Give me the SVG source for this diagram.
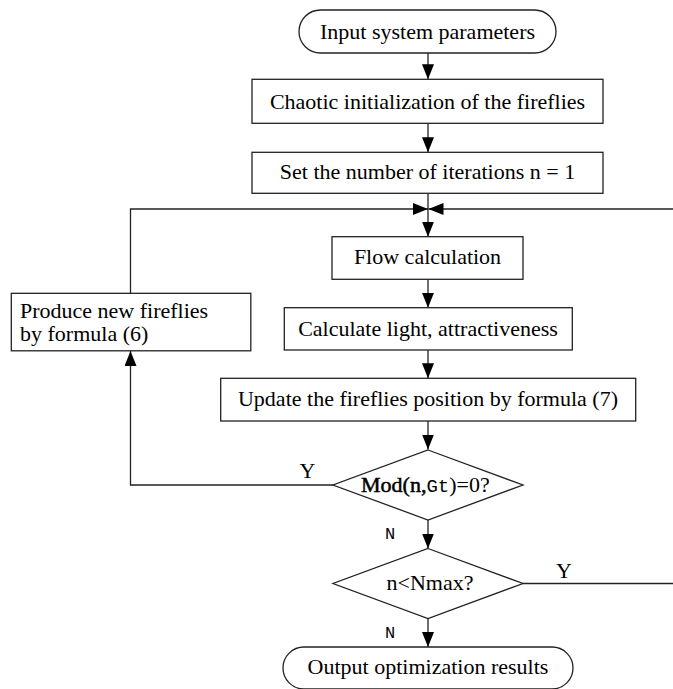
<svg xmlns="http://www.w3.org/2000/svg" width="673" height="689" viewBox="0 0 673 689">
<style>
.box{fill:#fff;stroke:#222;stroke-width:1.3}
.t{font-family:"Liberation Serif","Times New Roman",serif;font-size:22px;fill:#000}
.m{font-family:"Liberation Mono","Courier New",monospace;fill:#000}
.c{fill:none;stroke:#222;stroke-width:1.3}
</style>
<defs>
<marker id="arr" viewBox="0 0 15 12" refX="15" refY="6" markerWidth="15" markerHeight="12" orient="auto" markerUnits="userSpaceOnUse">
<path d="M0,0 L15,6 L0,12 Z" fill="#000"/>
</marker>
</defs>
<rect width="673" height="689" fill="#fff"/>
<g id="connectors">
<path class="c" d="M428 53 V79.3" marker-end="url(#arr)"/>
<path class="c" d="M428 123.3 V152.3" marker-end="url(#arr)"/>
<path class="c" d="M428 193.3 V236.7" marker-end="url(#arr)"/>
<path class="c" d="M428 279.3 V307.7" marker-end="url(#arr)"/>
<path class="c" d="M428 350 V378.3" marker-end="url(#arr)"/>
<path class="c" d="M428 421 V449.5" marker-end="url(#arr)"/>
<path class="c" d="M428 519.5 V548.5" marker-end="url(#arr)"/>
<path class="c" d="M428 618.5 V647" marker-end="url(#arr)"/>
<path class="c" d="M130.5 293.3 V209 H428" marker-end="url(#arr)"/>
<path class="c" d="M333 485 H130.5 V351" marker-end="url(#arr)"/>
<path class="c" d="M523 583.5 H685 V209 H428.5" marker-end="url(#arr)"/>
<text class="t" x="307.5" y="478" text-anchor="middle" font-size="18">Y</text>
<text class="t" x="564" y="578" text-anchor="middle" font-size="18">Y</text>
<text class="m" x="390" y="539" text-anchor="middle" font-size="17">N</text>
<text class="m" x="390" y="638" text-anchor="middle" font-size="17">N</text>
</g>
<g id="start">
<rect class="box" x="299" y="10" width="257" height="43" rx="21.5"/>
<text class="t" x="427.5" y="39" text-anchor="middle">Input system parameters</text>
</g>
<g id="init">
<rect class="box" x="252" y="79.3" width="351" height="44"/>
<text class="t" x="427.5" y="109" text-anchor="middle">Chaotic initialization of the fireflies</text>
</g>
<g id="setn">
<rect class="box" x="252" y="152.3" width="351" height="41"/>
<text class="t" x="427.5" y="179" text-anchor="middle">Set the number of iterations n = 1</text>
</g>
<g id="flow">
<rect class="box" x="332" y="236.7" width="191" height="42.6"/>
<text class="t" x="427.5" y="264" text-anchor="middle">Flow calculation</text>
</g>
<g id="light">
<rect class="box" x="284.3" y="307.7" width="288" height="42.3"/>
<text class="t" x="428" y="335.5" text-anchor="middle">Calculate light, attractiveness</text>
</g>
<g id="update">
<rect class="box" x="220.7" y="378.3" width="415" height="42.7"/>
<text class="t" x="428" y="406" text-anchor="middle">Update the fireflies position by formula (7)</text>
</g>
<g id="produce">
<rect class="box" x="11.3" y="293.3" width="239.5" height="57.5"/>
<text class="t" x="20" y="318" font-size="24">Produce new fireflies</text>
<text class="t" x="20" y="341" font-size="24">by formula (6)</text>
</g>
<g id="mod">
<polygon class="box" points="428,450 523,485 428,520 333,485"/>
<text class="t" x="361" y="492" font-size="21"><tspan stroke="#000" stroke-width="0.5">Mod(n,</tspan><tspan class="m" font-size="19">Gt</tspan><tspan>)=0?</tspan></text>
</g>
<g id="nmax">
<polygon class="box" points="428,548.5 523,583.5 428,618.5 333,583.5"/>
<text class="t" x="430" y="590" text-anchor="middle">n&lt;Nmax?</text>
</g>
<g id="end">
<rect class="box" x="283" y="647" width="290" height="42" rx="21"/>
<text class="t" x="428" y="674" text-anchor="middle">Output optimization results</text>
</g>
</svg>
